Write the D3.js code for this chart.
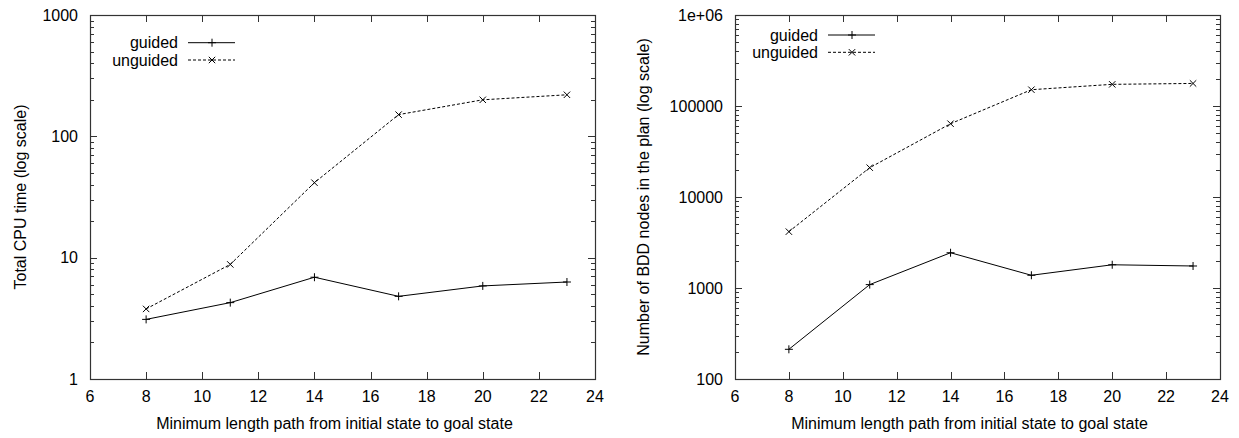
<!DOCTYPE html>
<html>
<head>
<meta charset="utf-8">
<script src="https://d3js.org/d3.v7.min.js"></script>
<style>
  body { margin: 0; background: #fff; }
  text { font-family: "Liberation Sans", Arial, Helvetica, sans-serif; font-size: 16px; fill: #000; }
</style>
</head>
<body>
<div id="chart"></div>
<script>
// data
var pathLength = [8, 11, 14, 17, 20, 23];
var xTicks = [6, 8, 10, 12, 14, 16, 18, 20, 22, 24];
var seriesNames = ["guided", "unguided"];

var cpuGuided   = [3.1, 4.26, 6.9, 4.8, 5.85, 6.3];
var cpuUnguided = [3.78, 8.8, 41.5, 151, 200, 220];
var cpuTicks = [1, 10, 100, 1000];

var bddGuided   = [212, 1090, 2440, 1380, 1800, 1745];
var bddUnguided = [4160, 21000, 63900, 151000, 173000, 177000];
var bddTicks = [100, 1000, 10000, 100000, 1000000];

var svg = d3.select("#chart")
  .append("svg")
    .attr("width", 1239)
    .attr("height", 438);

function panel(opt) {
  var x = d3.scaleLinear().domain([6, 24]).range([opt.left, opt.right]);
  var y = d3.scaleLog().domain(opt.yDomain).range([379, 15]);
  var g = svg.append("g");
  var axisColor = "#333";

  // minor log ticks (inward, left and right)
  var minor = [];
  for (var d = opt.yDomain[0]; d < opt.yDomain[1]; d *= 10)
    for (var k = 2; k <= 9; k++) minor.push(d * k);
  g.selectAll(".minor").data(minor).enter().append("path")
    .attr("d", function(v) {
      var yy = Math.round(y(v)) + 0.5;
      return "M" + opt.left + "," + yy + "h4M" + opt.right + "," + yy + "h-4";
    })
    .attr("stroke", axisColor).attr("stroke-width", 1);

  // major y ticks
  g.selectAll(".ymaj").data(opt.yTicks).enter().append("path")
    .attr("d", function(v) {
      var yy = Math.round(y(v)) + 0.5;
      return "M" + opt.left + "," + yy + "h7M" + opt.right + "," + yy + "h-7";
    })
    .attr("stroke", axisColor).attr("stroke-width", 1);
  g.selectAll(".ylab").data(opt.yTicks).enter().append("text")
    .attr("x", opt.left - 12)
    .attr("y", function(v) { return y(v); })
    .attr("dy", "0.35em")
    .attr("text-anchor", "end")
    .text(opt.yFormat);

  // x ticks top and bottom
  g.selectAll(".xmaj").data(xTicks).enter().append("path")
    .attr("d", function(v) {
      var xx = Math.round(x(v)) + 0.5;
      return "M" + xx + ",379v-7M" + xx + ",15v7";
    })
    .attr("stroke", axisColor).attr("stroke-width", 1);
  g.selectAll(".xlab").data(xTicks).enter().append("text")
    .attr("x", function(v) { return x(v); })
    .attr("y", 402)
    .attr("text-anchor", "middle")
    .text(function(v) { return v; });

  // frame
  g.append("rect")
    .attr("x", opt.left + 0.5).attr("y", 15.5)
    .attr("width", opt.right - opt.left).attr("height", 364)
    .attr("fill", "none").attr("stroke", axisColor).attr("stroke-width", 1.2);

  // axis titles
  g.append("text")
    .attr("x", (opt.left + opt.right) / 2 - 8)
    .attr("y", 429)
    .attr("text-anchor", "middle")
    .text("Minimum length path from initial state to goal state");
  g.append("text")
    .attr("transform", "translate(" + (opt.yTitleX + 6) + ",197)rotate(-90)")
    .attr("text-anchor", "middle")
    .text(opt.yTitle);

  // lines
  var line = d3.line()
    .x(function(d, i) { return x(pathLength[i]); })
    .y(function(d) { return y(d); });
  var series = [opt.guided, opt.unguided];
  series.forEach(function(vals, s) {
    g.append("path")
      .attr("d", line(vals))
      .attr("fill", "none")
      .attr("stroke", "#000")
      .attr("stroke-width", 1)
      .attr("stroke-dasharray", s ? "3,2" : null);
    g.selectAll(".pt" + s).data(vals).enter().append("path")
      .attr("d", function(d, i) { return marker(s, x(pathLength[i]), y(d)); })
      .attr("stroke", "#000").attr("stroke-width", 1).attr("fill", "none");
  });

  // legend
  seriesNames.forEach(function(name, s) {
    var ly = opt.legendY + s * 17.3;
    g.append("text")
      .attr("x", opt.legendX)
      .attr("y", ly).attr("dy", "0.35em")
      .attr("text-anchor", "end")
      .text(name);
    g.append("path")
      .attr("d", "M" + (opt.legendX + 10) + "," + ly + "h47")
      .attr("stroke", "#000").attr("stroke-width", 1)
      .attr("stroke-dasharray", s ? "3,2" : null);
    g.append("path")
      .attr("d", marker(s, opt.legendX + 34, ly))
      .attr("stroke", "#000").attr("stroke-width", 1);
  });
}

function marker(s, cx, cy) {
  var r = 4;
  if (s === 0) return "M" + (cx - r) + "," + cy + "h" + 2 * r + "M" + cx + "," + (cy - r) + "v" + 2 * r;
  r = 3.2;
  return "M" + (cx - r) + "," + (cy - r) + "l" + 2 * r + "," + 2 * r +
         "M" + (cx - r) + "," + (cy + r) + "l" + 2 * r + "," + (-2 * r);
}

panel({
  left: 90, right: 595,
  yDomain: [1, 1000], yTicks: cpuTicks,
  yFormat: function(v) { return v; },
  yTitle: "Total CPU time (log scale)", yTitleX: 20,
  guided: cpuGuided, unguided: cpuUnguided,
  legendX: 178, legendY: 42.7
});

panel({
  left: 735, right: 1220,
  yDomain: [100, 1000000], yTicks: bddTicks,
  yFormat: function(v) { return v === 1000000 ? "1e+06" : v; },
  yTitle: "Number of BDD nodes in the plan (log scale)", yTitleX: 643,
  guided: bddGuided, unguided: bddUnguided,
  legendX: 818, legendY: 35
});
</script>
</body>
</html>
